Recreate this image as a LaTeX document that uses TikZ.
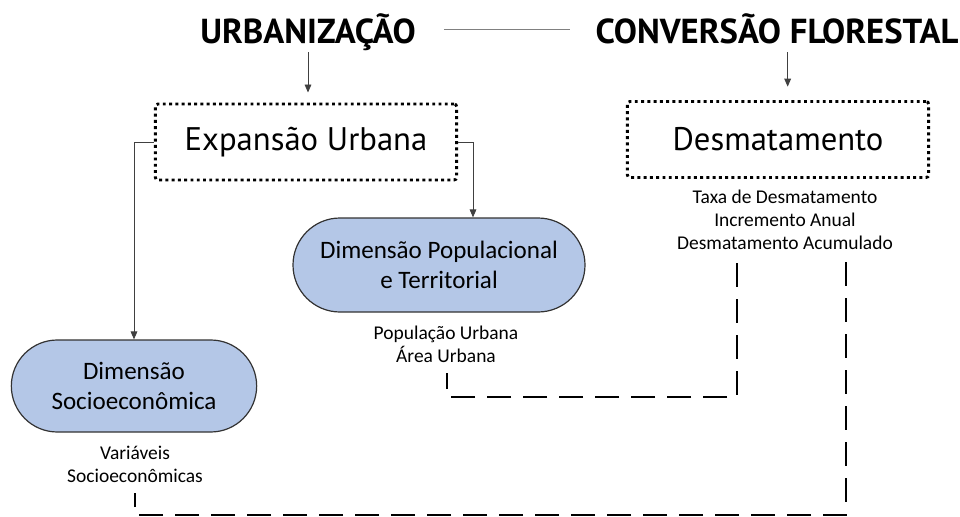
\documentclass[tikz,border=0pt]{standalone}
\usepackage{fontspec}
\setmainfont{Carlito}
\newfontfamily\headfont{PT Sans}
\usetikzlibrary{shapes.misc,arrows.meta,positioning}
\definecolor{pillblue}{HTML}{B4C7E7}
\definecolor{edgegray}{HTML}{404040}
\tikzset{
    heading/.style = {font=\headfont\bfseries\fontsize{26}{30}\selectfont, inner sep=0pt, text depth=0pt},
    dotbox/.style = {draw, line width=2.2pt, dash pattern=on 2.2pt off 2.5pt, rounded corners=2pt,
        minimum width=226pt, minimum height=57pt, inner sep=0pt, font=\headfont\fontsize{24.5}{29}\selectfont},
    pill/.style = {rounded rectangle, draw=black!80, line width=0.9pt, fill=pillblue, align=center,
        inner sep=0pt, font=\fontsize{18.8}{22}\selectfont},
    varlist/.style = {align=center, inner sep=0pt, font=\fontsize{14.6}{17.3}\selectfont},
    flow/.style = {-{Triangle[length=6pt,width=5pt]}, draw=edgegray, line width=0.7pt},
    link/.style = {draw=black, line width=2.2pt, dash pattern=on 18pt off 9pt},
    titleline/.style = {draw=black!50, line width=0.7pt}
}
\begin{document}
\begin{tikzpicture}[x=0.75pt, y=-0.75pt]
    \useasboundingbox (0,0) rectangle (960,517);

    % Nodes
    \node[heading, anchor=base] (urb) at (308,44) {URBANIZAÇÃO};
    \node[heading, anchor=base] (conv) at (777,44) {CONVERSÃO FLORESTAL};
    \node[dotbox] (expansao) at (306,142) {Expansão Urbana};
    \node[dotbox] (desm) at (778,139.5) {Desmatamento};
    \node[pill, minimum width=219pt, minimum height=70.5pt] (popul) at (439,265) {Dimensão Populacional\\e Territorial};
    \node[pill, minimum width=184pt, minimum height=69pt] (socio) at (134,386) {Dimensão\\Socioeconômica};

    \node[varlist] (desmvar) at (785,220) {Taxa de Desmatamento\\Incremento Anual\\Desmatamento Acumulado};
    \node[varlist] (populvar) at (446,344) {População Urbana\\Área Urbana};
    \node[varlist] (sociovar) at (135,464) {Variáveis\\Socioeconômicas};

    % Dashed links
    \coordinate (desmA) at (737,263);
    \coordinate (cornerA) at (737,397);
    \coordinate (populA) at (447,373);
    \coordinate (desmB) at (846,262);
    \coordinate (cornerB) at (846,515);
    \coordinate (socioB) at (135,493);

    % Edges with arrows
    \draw[titleline, shorten <=21pt, shorten >=19pt] (urb.east) -- (conv.west);
    \draw[flow, shorten <=6pt, shorten >=7.5pt] (urb.south) -- (urb.south |- expansao.north);
    \draw[flow, shorten <=6pt, shorten >=10pt] ([xshift=8pt]conv.south) -- ([xshift=8pt]conv.south |- desm.north);
    \draw[flow] (expansao.west) -| (socio.north);
    \draw[flow] (expansao.east) -| ([xshift=25.5pt]popul.north);

    \draw[link] (desmA) -- (cornerA) -| (populA);
    \draw[link] (desmB) -- (cornerB) -| (socioB);

\end{tikzpicture}
\end{document}
